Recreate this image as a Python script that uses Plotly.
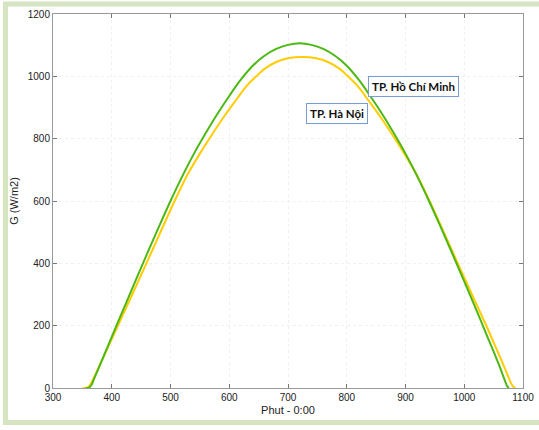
import plotly.graph_objects as go

# Minutes after 0:00 -- TP. Ho Chi Minh
minutes_hcm = [355, 360, 365, 370, 380, 390, 400, 420, 440, 460, 480, 500, 520, 540,
               560, 580, 600, 620, 640, 660, 680, 700, 720, 740, 760, 780, 800, 820,
               840, 860, 880, 900, 920, 940, 960, 980, 1000, 1020, 1040, 1050, 1060,
               1066, 1070, 1073, 1076]
g_hcm = [0, 0, 8, 30, 74, 119, 164, 253, 342, 430, 516, 600, 679, 752,
         818, 880, 937, 990, 1034, 1066, 1088, 1101, 1106, 1101, 1088, 1066, 1034, 990,
         937, 880, 818, 752, 679, 600, 516, 430, 342, 253, 162, 117, 70,
         40, 20, 6, 0]

# Minutes after 0:00 -- TP. Ha Noi
minutes_hn = [350, 356, 361, 366, 375, 390, 400, 410, 430, 459, 480, 507, 530, 550,
              566, 590, 610, 630, 646, 660, 680, 700, 724, 748, 768, 788, 802, 818,
              838, 858, 882, 898, 918, 941, 968, 989, 1018, 1038, 1048, 1058, 1068,
              1075, 1080, 1084, 1087]
g_hn = [0, 0, 5, 20, 55, 116, 157, 198, 280, 400, 488, 600, 688, 752,
        800, 868, 920, 970, 1000, 1024, 1046, 1058, 1062, 1058, 1046, 1024, 1000, 970,
        920, 868, 800, 752, 688, 600, 488, 400, 280, 198, 155, 112, 68,
        36, 14, 3, 0]

label_hcm = "TP. Hồ Chí Minh"
label_hn = "TP. Hà Nội"
x_ticks = [300, 400, 500, 600, 700, 800, 900, 1000, 1100]
y_ticks = [0, 200, 400, 600, 800, 1000, 1200]

fig = go.Figure()
fig.add_trace(go.Scatter(x=minutes_hn, y=g_hn, mode="lines", name=label_hn,
                         line=dict(color="#FFCC00", width=2, shape="spline", smoothing=1.0)))
fig.add_trace(go.Scatter(x=minutes_hcm, y=g_hcm, mode="lines", name=label_hcm,
                         line=dict(color="#4CB814", width=2, shape="spline", smoothing=1.0)))

ann_font = dict(family="Lato, Open Sans, sans-serif", size=11.5, color="#111")
fig.add_annotation(x=914, y=969, text="<b>" + label_hcm + "</b>", showarrow=False,
                   font=ann_font, bgcolor="white", bordercolor="#7b9bd6", borderwidth=1,
                   borderpad=3)
fig.add_annotation(x=783, y=882, text="<b>" + label_hn + "</b>", showarrow=False,
                   font=ann_font, bgcolor="white", bordercolor="#7b9bd6", borderwidth=1,
                   borderpad=3)

# light green frame around the figure
fig.add_shape(type="rect", xref="paper", yref="paper",
              x0=-0.1011, x1=1.2, y0=-0.0922, y1=1.0267,
              line=dict(color="#d7e4c1", width=5), layer="below")

axis_common = dict(showline=True, linecolor="#999999", linewidth=1, mirror="ticks",
                   ticks="inside", ticklen=4, tickcolor="#777777", automargin=False,
                   showgrid=True, gridcolor="#f0f0f0", griddash="dot",
                   zeroline=False, tickfont=dict(family="Liberation Sans, Arial", size=10, color="#222"))

fig.update_xaxes(range=[300, 1100], tickvals=x_ticks,
                 title=dict(text="Phut - 0:00", font=dict(family="Liberation Sans, Arial", size=11, color="#222"),
                            standoff=4),
                 **axis_common)
fig.update_yaxes(range=[0, 1200], tickvals=y_ticks,
                 title=dict(text="G (W/m2)", font=dict(family="Liberation Sans, Arial", size=11, color="#222"),
                            standoff=6),
                 **axis_common)

fig.update_layout(width=539, height=430, showlegend=False,
                  margin=dict(l=53, r=16, t=14, b=42),
                  paper_bgcolor="white", plot_bgcolor="white")

fig.write_html("out.html", config={"displayModeBar": False},
               post_script="document.body.style.margin='0';")
